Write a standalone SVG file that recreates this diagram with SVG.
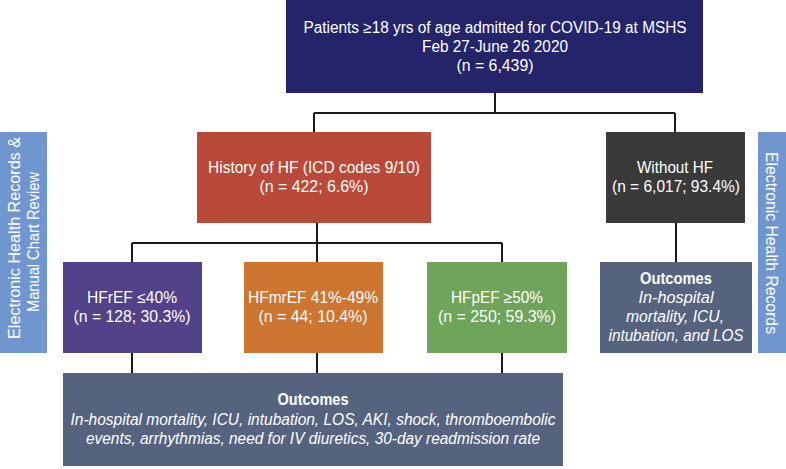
<svg xmlns="http://www.w3.org/2000/svg" width="786" height="469" viewBox="0 0 786 469">
<style>
text{font-family:"Liberation Sans",Arial,sans-serif;fill:#fff;text-anchor:middle;font-size:16px}
.b{font-weight:bold}
.i{font-style:italic}
.c{stroke:#1a1a1a;stroke-width:2;fill:none}
</style>
<rect width="786" height="469" fill="#fff"/>
<g id="connectors">
<path class="c" d="M495 93V113M314 113H675M314 113V132M675 113V132"/>
<path class="c" d="M317 223V243M132 243H502M132 243V262M317 243V262M502 243V262"/>
<path class="c" d="M676 223V262"/>
<path class="c" d="M132 353V373M317 353V373M502 353V373"/>
</g>
<g id="side-left">
<rect x="0" y="132" width="47" height="221" fill="#7096d0"/>
<text transform="translate(20 238) rotate(-90)" textLength="202" lengthAdjust="spacingAndGlyphs">Electronic Health Records &amp;</text>
<text transform="translate(39 242) rotate(-90)" textLength="140" lengthAdjust="spacingAndGlyphs">Manual Chart Review</text>
</g>
<g id="side-right">
<rect x="758" y="132" width="28" height="221" fill="#7096d0"/>
<text transform="translate(766 243) rotate(90)" textLength="182" lengthAdjust="spacingAndGlyphs">Electronic Health Records</text>
</g>
<g id="top">
<rect x="286" y="0" width="417" height="93" fill="#23246a"/>
<text x="495" y="33" textLength="383" lengthAdjust="spacingAndGlyphs">Patients ≥18 yrs of age admitted for COVID-19 at MSHS</text>
<text x="495" y="52" textLength="146" lengthAdjust="spacingAndGlyphs">Feb 27-June 26 2020</text>
<text x="495" y="71" textLength="77" lengthAdjust="spacingAndGlyphs">(n = 6,439)</text>
</g>
<g id="history">
<rect x="197" y="132" width="234" height="91" fill="#b94a3a"/>
<text x="314" y="173" textLength="212" lengthAdjust="spacingAndGlyphs">History of HF (ICD codes 9/10)</text>
<text x="314" y="192" textLength="109" lengthAdjust="spacingAndGlyphs">(n = 422; 6.6%)</text>
</g>
<g id="without">
<rect x="606" y="132" width="139" height="91" fill="#3a3a3a"/>
<text x="675" y="173" textLength="76" lengthAdjust="spacingAndGlyphs">Without HF</text>
<text x="676" y="192" textLength="128" lengthAdjust="spacingAndGlyphs">(n = 6,017; 93.4%)</text>
</g>
<g id="hfref">
<rect x="63" y="262" width="139" height="91" fill="#514289"/>
<text x="132" y="303" textLength="90" lengthAdjust="spacingAndGlyphs">HFrEF ≤40%</text>
<text x="132" y="322" textLength="117" lengthAdjust="spacingAndGlyphs">(n = 128; 30.3%)</text>
</g>
<g id="hfmref">
<rect x="244" y="262" width="139" height="91" fill="#cd7632"/>
<text x="313" y="303" textLength="130" lengthAdjust="spacingAndGlyphs">HFmrEF 41%-49%</text>
<text x="313" y="322" textLength="109" lengthAdjust="spacingAndGlyphs">(n = 44; 10.4%)</text>
</g>
<g id="hfpef">
<rect x="427" y="262" width="140" height="91" fill="#6fa55b"/>
<text x="497" y="303" textLength="92" lengthAdjust="spacingAndGlyphs">HFpEF ≥50%</text>
<text x="497" y="322" textLength="118" lengthAdjust="spacingAndGlyphs">(n = 250; 59.3%)</text>
</g>
<g id="outcomes-right">
<rect x="600" y="262" width="152" height="91" fill="#55637f"/>
<text x="676" y="284" class="b" textLength="72" lengthAdjust="spacingAndGlyphs">Outcomes</text>
<text x="676" y="303" class="i" textLength="75" lengthAdjust="spacingAndGlyphs">In-hospital</text>
<text x="675" y="322" class="i" textLength="98" lengthAdjust="spacingAndGlyphs">mortality, ICU,</text>
<text x="676" y="341" class="i" textLength="135" lengthAdjust="spacingAndGlyphs">intubation, and LOS</text>
</g>
<g id="outcomes-bottom">
<rect x="63" y="373" width="500" height="93" fill="#55637f"/>
<text x="313" y="405" class="b" textLength="71" lengthAdjust="spacingAndGlyphs">Outcomes</text>
<text x="313" y="425" class="i" textLength="485" lengthAdjust="spacingAndGlyphs">In-hospital mortality, ICU, intubation, LOS, AKI, shock, thromboembolic</text>
<text x="313" y="444" class="i" textLength="454" lengthAdjust="spacingAndGlyphs">events, arrhythmias, need for IV diuretics, 30-day readmission rate</text>
</g>
</svg>
